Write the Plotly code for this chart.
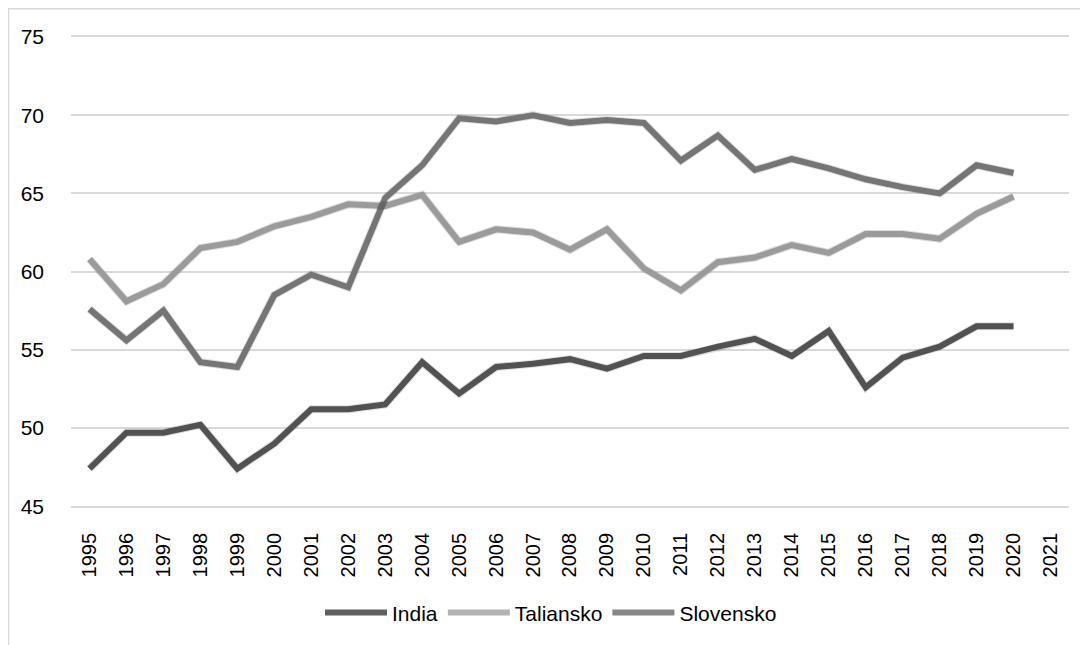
import plotly.graph_objects as go

years = [str(y) for y in range(1995, 2022)]
india = [47.4, 49.7, 49.7, 50.2, 47.4, 49.0, 51.2, 51.2, 51.5, 54.2, 52.2, 53.9, 54.1,
         54.4, 53.8, 54.6, 54.6, 55.2, 55.7, 54.6, 56.2, 52.6, 54.5, 55.2, 56.5, 56.5]
taliansko = [60.8, 58.1, 59.2, 61.5, 61.9, 62.9, 63.5, 64.3, 64.2, 64.9, 61.9, 62.7, 62.5,
             61.4, 62.7, 60.2, 58.8, 60.6, 60.9, 61.7, 61.2, 62.4, 62.4, 62.1, 63.7, 64.8]
slovensko = [57.6, 55.6, 57.5, 54.2, 53.9, 58.5, 59.8, 59.0, 64.7, 66.8, 69.8, 69.6, 70.0,
             69.5, 69.7, 69.5, 67.1, 68.7, 66.5, 67.2, 66.6, 65.9, 65.4, 65.0, 66.8, 66.3]

series = [("India", india, "#5f5f5f"),
          ("Taliansko", taliansko, "#b2b2b2"),
          ("Slovensko", slovensko, "#878787")]

fig = go.Figure()

# soft shadows (drawn on slightly offset overlay axes)
for name, vals, col in series:
    fig.add_trace(go.Scatter(x=years[:len(vals)], y=vals, mode="lines",
                             line=dict(color="rgba(0,0,0,0.13)", width=8),
                             xaxis="x2", yaxis="y2", showlegend=False, hoverinfo="skip"))

for name, vals, col in series:
    fig.add_trace(go.Scatter(x=years[:len(vals)], y=vals, mode="lines", name=name,
                             line=dict(color=col, width=6)))

font = "Liberation Sans, Arial, sans-serif"
grid = "#d9d9d9"
fig.update_layout(
    width=1080, height=637,
    margin=dict(l=63, r=17, t=29, b=136, autoexpand=False),
    plot_bgcolor="white", paper_bgcolor="white",
    font=dict(family=font, size=21, color="#000000"),
    showlegend=True,
    legend=dict(orientation="h", x=0.48, xanchor="center", y=-0.220, yanchor="middle",
                font=dict(size=21, family=font), itemwidth=62, tracegroupgap=0,
                traceorder="normal"),
    xaxis=dict(type="category", categoryorder="array", categoryarray=years,
               range=[-0.5, len(years) - 0.5], domain=[0, 0.998], automargin=False,
               tickangle=-90, showgrid=False, showline=True, mirror=True,
               linecolor=grid, linewidth=1.5, ticks="",
               ticklabelstandoff=17, tickfont=dict(size=20)),
    yaxis=dict(range=[45, 75], dtick=5, domain=[0.006, 1], showgrid=True, automargin=False,
               gridcolor=grid, gridwidth=1.5, zeroline=False, showline=False,
               ticks="", ticklabelstandoff=26, tickfont=dict(size=21)),
    xaxis2=dict(type="category", categoryorder="array", categoryarray=years,
                range=[-0.5, len(years) - 0.5], domain=[0.002, 1], overlaying="x",
                visible=False, anchor="y2"),
    yaxis2=dict(range=[45, 75], domain=[0, 0.994], overlaying="y", visible=False,
                anchor="x2"),
    shapes=[dict(type="rect", xref="paper", yref="paper", x0=-0.0625, x1=1.03,
                 y0=-0.32, y1=1.060, line=dict(color=grid, width=1.5),
                 fillcolor="rgba(0,0,0,0)", layer="below")],
)

fig.write_html("out.html")
